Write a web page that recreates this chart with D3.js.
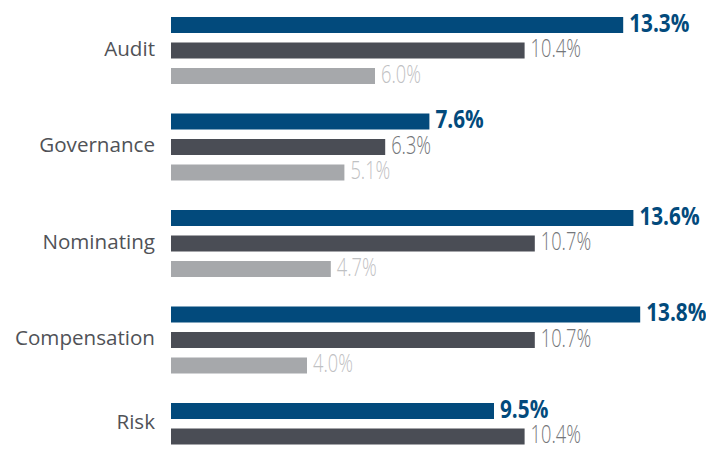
<!DOCTYPE html>
<html><head><meta charset="utf-8">
<script src="https://cdn.jsdelivr.net/npm/d3@7"></script>
<style>html,body{margin:0;padding:0;background:#fff;}</style>
</head><body>
<svg id="chart" width="706" height="450"></svg>
<script>
const categories = ["Audit", "Governance", "Nominating", "Compensation", "Risk"];
const seriesNames = ["s1", "s2", "s3"];
const series1 = [13.3, 7.6, 13.6, 13.8, 9.5];
const series2 = [10.4, 6.3, 10.7, 10.7, 10.4];
const series3 = [6.0, 5.1, 4.7, 4.0, null];

const barColors = ["#024a7c", "#4a4d55", "#a6a8ab"];
const textColors = ["#024a7c", "#74767a", "#bfc1c3"];
const textWeights = [700, 300, 300];
const textScale = [0.83, 0.73, 0.73];

const svg = d3.select("#chart");
const x = d3.scaleLinear().domain([0, 1]).range([171, 171 + 34.0]);
const y = d3.scaleBand().domain(categories).range([17, 17 + 5 * 96.5]).padding(0);
const yi = d3.scaleBand().domain(seriesNames).range([0, 67]).paddingInner(0.3725).paddingOuter(0);

const data = categories.map((c, i) => ({
  cat: c,
  vals: [series1[i], series2[i], series3[i]]
    .map((v, k) => ({ v, k, key: seriesNames[k] }))
    .filter(d => d.v != null)
}));

const g = svg.selectAll("g.cat").data(data).join("g")
  .attr("class", "cat")
  .attr("transform", d => `translate(0,${y(d.cat)})`);

g.selectAll("rect").data(d => d.vals).join("rect")
  .attr("x", x(0))
  .attr("y", d => yi(d.key))
  .attr("width", d => x(d.v) - x(0))
  .attr("height", yi.bandwidth())
  .attr("fill", d => barColors[d.k]);

g.selectAll("text.val").data(d => d.vals).join("text")
  .attr("class", "val")
  .attr("transform", d => `translate(${x(d.v) + 6},${yi(d.key) + yi.bandwidth() / 2 - 3}) scale(${textScale[d.k]},1)`)
  .attr("dominant-baseline", "central")
  .attr("font-family", "'Open Sans', sans-serif")
  .attr("font-size", 25)
  .attr("font-weight", d => textWeights[d.k])
  .attr("fill", d => textColors[d.k])
  .text(d => d.v.toFixed(1) + "%");

g.append("text")
  .attr("class", "cat-label")
  .attr("x", 155)
  .attr("y", d => {
    const first = yi(d.vals[0].key);
    const last = yi(d.vals[d.vals.length - 1].key) + yi.bandwidth();
    return (first + last) / 2 - 3;
  })
  .attr("text-anchor", "end")
  .attr("dominant-baseline", "central")
  .attr("font-family", "'Open Sans', sans-serif")
  .attr("font-size", 20.6)
  .attr("fill", "#505257")
  .text(d => d.cat);
</script>
</body></html>
